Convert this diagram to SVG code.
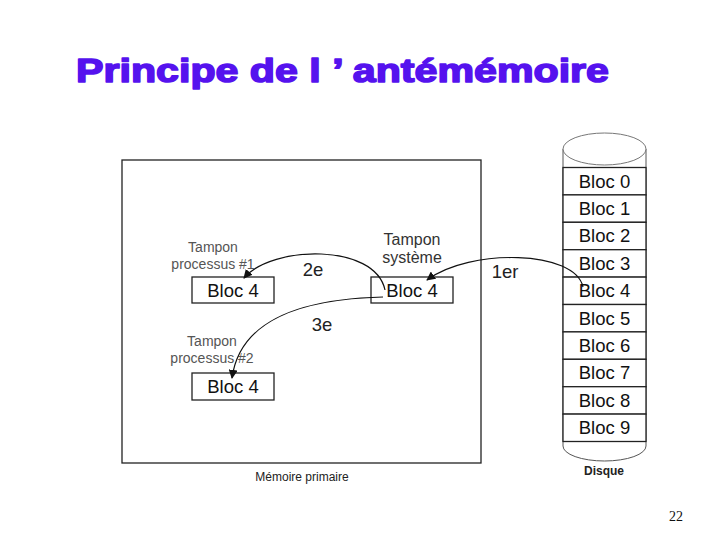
<svg xmlns="http://www.w3.org/2000/svg" width="720" height="540" viewBox="0 0 720 540">
<style>
.box{fill:#fff;stroke:#222;stroke-width:1.3}
.bl{font-family:"Liberation Sans",Arial,sans-serif;font-size:18.5px;fill:#111;text-anchor:middle}
.lab{font-family:"Liberation Sans",Arial,sans-serif;font-size:14px;fill:#555;text-anchor:middle}
.lab2{font-family:"Liberation Sans",Arial,sans-serif;font-size:16px;fill:#333;text-anchor:middle}
.num{font-family:"Liberation Sans",Arial,sans-serif;font-size:18.5px;fill:#222;text-anchor:middle}
.cap{font-family:"Liberation Sans",Arial,sans-serif;font-size:12px;fill:#222;text-anchor:middle}
.con{fill:none;stroke:#111;stroke-width:1.2}
</style>
<defs>
<marker id="ah" viewBox="0 0 10 10" refX="9" refY="5" markerWidth="9" markerHeight="9" markerUnits="userSpaceOnUse" orient="auto">
<path d="M0,0 L10,5 L0,10 z" fill="#111"/>
</marker>
</defs>
<rect width="720" height="540" fill="#fff"/>
<text x="76" y="82" textLength="533" lengthAdjust="spacingAndGlyphs" font-family="'Liberation Sans',Arial,sans-serif" font-weight="bold" font-size="34" fill="#5512ee" stroke="#5512ee" stroke-width="1.6" stroke-linejoin="round">Principe de l ’ antémémoire</text>

<g id="memoire">
<rect x="122" y="160" width="359" height="303" fill="#fff" stroke="#222" stroke-width="1.3"/>
<text x="302" y="481" class="cap">Mémoire primaire</text>
</g>

<g id="proc1">
<text x="213" y="252" class="lab">Tampon</text>
<text x="213" y="269" class="lab">processus #1</text>
<rect x="192" y="277" width="82" height="26" class="box"/>
<text x="233" y="297" class="bl">Bloc 4</text>
</g>

<g id="systeme">
<text x="412" y="245" class="lab2">Tampon</text>
<text x="412" y="263" class="lab2">système</text>
<rect x="371" y="277" width="82" height="26" class="box"/>
<text x="412" y="297" class="bl">Bloc 4</text>
</g>

<g id="proc2">
<text x="212" y="346" class="lab">Tampon</text>
<text x="212" y="363" class="lab">processus #2</text>
<rect x="192" y="373" width="82" height="27" class="box"/>
<text x="233" y="393" class="bl">Bloc 4</text>
</g>

<g id="disque">
<path d="M563,149 L563,446 A41.5,15 0 0 0 646,446 L646,149" fill="#fff" stroke="#555" stroke-width="1"/>
<ellipse cx="604.5" cy="149" rx="41.5" ry="16" fill="#fff" stroke="#777" stroke-width="1"/>
<rect x="563" y="167.5" width="83" height="27.4" class="box"/>
<rect x="563" y="194.9" width="83" height="27.4" class="box"/>
<rect x="563" y="222.3" width="83" height="27.4" class="box"/>
<rect x="563" y="249.7" width="83" height="27.4" class="box"/>
<rect x="563" y="277.1" width="83" height="27.4" class="box"/>
<rect x="563" y="304.5" width="83" height="27.4" class="box"/>
<rect x="563" y="331.9" width="83" height="27.4" class="box"/>
<rect x="563" y="359.3" width="83" height="27.4" class="box"/>
<rect x="563" y="386.7" width="83" height="27.4" class="box"/>
<rect x="563" y="414.1" width="83" height="27.4" class="box"/>
<text x="604.5" y="187.5" class="bl">Bloc 0</text>
<text x="604.5" y="214.9" class="bl">Bloc 1</text>
<text x="604.5" y="242.3" class="bl">Bloc 2</text>
<text x="604.5" y="269.7" class="bl">Bloc 3</text>
<text x="604.5" y="297.1" class="bl">Bloc 4</text>
<text x="604.5" y="324.5" class="bl">Bloc 5</text>
<text x="604.5" y="351.9" class="bl">Bloc 6</text>
<text x="604.5" y="379.3" class="bl">Bloc 7</text>
<text x="604.5" y="406.7" class="bl">Bloc 8</text>
<text x="604.5" y="434.1" class="bl">Bloc 9</text>
<text x="604" y="475" class="cap" font-size="11" font-weight="bold">Disque</text>
</g>

<g id="connecteurs">
<path d="M583,287 C575,250 470,248 427,280" class="con" marker-end="url(#ah)"/>
<path d="M385,290 C375,243 272,245 244,278" class="con" marker-end="url(#ah)"/>
<path d="M383,297 C300,299 240,320 232,378" class="con" marker-end="url(#ah)"/>
<text x="505" y="278" class="num">1er</text>
<text x="313" y="276" class="num">2e</text>
<text x="322" y="331" class="num">3e</text>
</g>

<text x="676" y="521" font-family="'Liberation Serif','Times New Roman',serif" font-size="14" fill="#111" text-anchor="middle">22</text>
</svg>
